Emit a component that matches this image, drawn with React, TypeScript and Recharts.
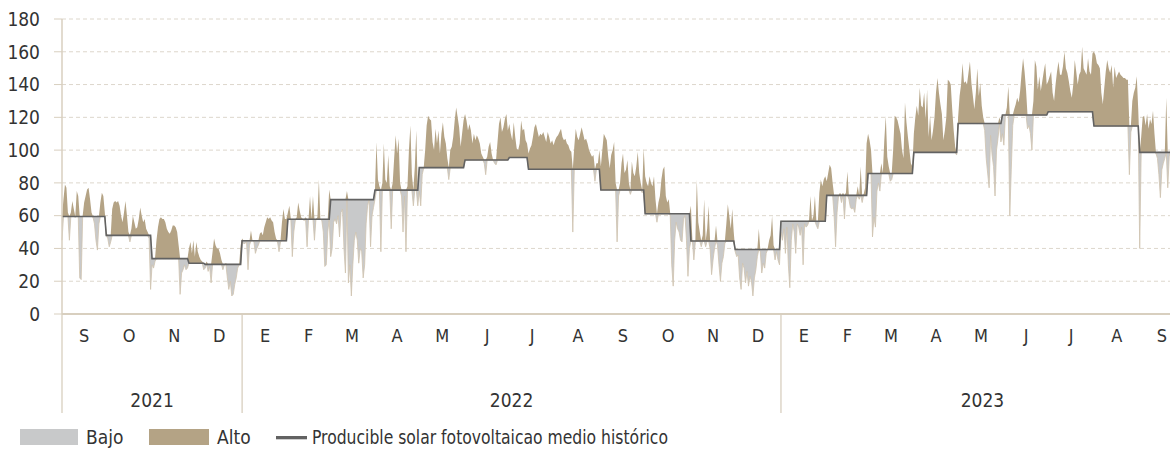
import React from 'react';
import { ComposedChart, Area, Line, XAxis, YAxis, CartesianGrid } from 'recharts';

// ---- axis labels ----
const monthLabels = ['S','O','N','D','E','F','M','A','M','J','J','A','S','O','N','D','E','F','M','A','M','J','J','A','S'];
const monthLengths = [30,31,30,31, 31,28,31,30,31,30,31,31,30,31,30,31, 31,28,31,30,31,30,31,31,30];
const yearLabels = ['2021','2022','2023'];
const yearMonthCounts = [4, 12, 9];
const yTicks = [0,20,40,60,80,100,120,140,160,180];

// ---- daily producible (one array per month) ----
const sep21 = [45,70,79,77,62,45,62,69,64,59,75,72,22,21,60,68,72,76,77,70,62,59,55,45,39,55,68,74,72,62];
const oct21 = [50,46,41,44,64,68,69,68,69,66,60,56,62,69,60,50,44,52,60,56,52,53,58,65,60,56,58,52,50,46,15];
const nov21 = [30,28,32,45,53,58,59,58,58,56,52,50,49,51,54,54,53,50,42,12,25,27,30,27,28,40,44,37,45,35];
const dec21 = [44,38,35,33,32,27,28,32,26,29,19,38,46,42,40,40,37,33,27,30,31,22,15,20,11,12,18,22,28,30,42];
const jan22 = [46,43,43,44,27,42,51,45,44,37,40,42,49,50,48,53,56,59,58,59,57,56,50,46,44,38,44,56,64,58,58];
const feb22 = [62,66,58,35,50,57,59,68,63,59,58,57,59,41,58,72,58,72,45,58,59,82,58,57,50,29,30,50];
const mar22 = [76,35,40,56,58,55,60,47,62,64,40,25,75,19,30,11,30,45,50,45,31,40,38,22,30,55,66,70,41,60,65];
const apr22 = [70,105,82,78,38,80,104,82,80,97,78,52,80,95,109,98,107,80,72,50,72,38,78,100,115,85,66,90,112,66];
const may22 = [75,66,85,89,100,115,121,119,118,105,100,113,104,112,98,110,117,108,104,95,82,100,102,108,118,126,120,114,102,110,118];
const jun22 = [122,118,112,116,112,104,110,106,109,107,104,98,96,92,85,96,102,105,98,94,92,91,105,116,120,111,114,119,122,112];
const jul22 = [116,110,106,117,108,101,100,104,118,112,113,106,104,98,101,103,108,114,116,112,108,110,109,111,108,105,111,108,104,106,103];
const aug22 = [106,108,109,111,113,108,106,107,104,103,100,99,50,102,113,108,106,110,114,110,106,107,104,100,98,96,97,81,92,92,100];
const sep22 = [90,100,110,108,106,96,89,97,100,105,80,44,72,80,92,98,86,88,94,80,73,93,86,84,90,99,86,80,74,101];
const oct22 = [84,80,78,84,80,78,84,70,56,68,72,82,88,90,72,68,70,60,30,17,45,56,52,50,45,44,58,60,45,23,40];
const nov22 = [66,45,33,44,82,56,50,41,48,70,41,52,66,40,24,33,40,54,42,30,20,31,35,43,55,67,60,52,64,50];
const dec22 = [38,35,36,22,15,31,28,19,26,17,23,20,11,22,27,35,52,38,25,31,28,37,40,45,48,60,42,33,38,33,30];
const jan23 = [50,45,52,37,53,30,16,45,55,50,37,55,53,48,53,30,55,53,54,57,72,57,60,72,54,52,74,82,78,82,84];
const feb23 = [81,86,91,89,80,60,41,62,72,74,68,74,58,74,87,70,65,64,65,62,70,78,70,90,68,73,77,104];
const mar23 = [110,106,100,47,59,53,75,80,75,92,86,106,121,96,90,81,82,100,121,120,118,114,110,100,95,129,117,108,100,92,90];
const apr23 = [110,120,127,121,138,127,126,135,119,137,108,121,106,112,120,135,144,135,128,122,106,112,120,143,142,140,125,112,102,97];
const may23 = [120,133,140,153,141,142,140,147,154,141,133,125,135,150,133,141,127,120,112,95,86,77,109,97,90,72,100,107,120,105,110];
const jun23 = [103,121,126,139,60,88,115,125,128,132,129,136,147,156,148,137,113,115,110,100,130,155,151,137,145,136,142,148,153,140];
const jul23 = [142,145,148,135,130,140,148,154,146,146,151,160,150,147,142,136,132,140,155,148,140,146,148,163,150,148,146,156,148,146,159];
const aug23 = [160,158,153,152,150,135,128,138,148,155,150,147,152,138,151,144,146,148,146,145,144,144,143,143,85,111,130,135,138,145,125];
const sep23 = [40,108,120,121,115,122,113,119,116,124,110,98,95,85,71,88,92,95,132,77,96,100];

const dailyByMonth = [sep21,oct21,nov21,dec21,jan22,feb22,mar22,apr22,may22,jun22,jul22,aug22,sep22,oct22,nov22,dec22,jan23,feb23,mar23,apr23,may23,jun23,jul23,aug23,sep23];

// ---- historical mean (step level, from day index) ----
const meanStartDay = [0,30,61,86,97,122,153,182,212,242,273,303,316,365,395,426,456,487,518,546,577,607,637,668,699,730];
const meanValue = [59.5,48,33.8,31,30.3,44.7,57.8,69.8,75.6,89.3,94,95.5,88.3,75.7,61.2,44.5,39.4,56.6,72.4,85.7,98.6,116.2,121.4,123.4,114.7,98.6];

// ---- derived structures ----
const monthStarts: number[] = [];
let acc = 0;
for (const len of monthLengths) { monthStarts.push(acc); acc += len; }
const totalDays = acc;
const monthCenters = monthStarts.map((s, i) => s + monthLengths[i] / 2);
const yearStarts: number[] = [];
const yearEnds: number[] = [];
{
  let mi = 0;
  for (const c of yearMonthCounts) {
    yearStarts.push(monthStarts[mi]);
    mi += c;
    yearEnds.push(mi < monthStarts.length ? monthStarts[mi] : totalDays);
  }
}
const yearCenters = yearStarts.map((s, i) => (s + yearEnds[i]) / 2);

const values = dailyByMonth.flat();
const meanAt = (d: number) => {
  let m = meanValue[0];
  for (let i = 0; i < meanStartDay.length; i++) if (d >= meanStartDay[i]) m = meanValue[i];
  return m;
};
const data = values.map((v, d) => {
  const m = meanAt(d);
  return { d, v, m, bajo: [Math.min(v, m), m], alto: [m, Math.max(v, m)] };
});

// ---- styling ----
const FONT = "'Liberation Sans Narrow', 'Arial Narrow', 'DejaVu Sans Condensed', 'Roboto Condensed', Roboto, sans-serif";
const TEXT = '#333333';
const AXIS = '#d8cfbf';
const GRID = '#ddd7cc';
const GRAY = '#c8c9ca';
const BROWN = '#b4a385';
const LINE = '#626262';

const near = (a: number, b: number) => Math.abs(a - b) < 0.01;

const MonthTick = (props: any) => {
  const { x, y, payload } = props;
  const i = monthCenters.findIndex((c) => near(c, payload.value));
  return (
    <text x={x} y={y + 28} textAnchor="middle" fill={TEXT} fontSize={18} fontFamily={FONT}>
      {i >= 0 ? monthLabels[i] : ''}
    </text>
  );
};

const YearTick = (props: any) => {
  const { x, y, payload } = props;
  const b = yearStarts.findIndex((s) => near(s, payload.value));
  if (b >= 0) {
    return <line x1={x} x2={x} y1={y - 40} y2={y + 59} stroke={AXIS} strokeWidth={1.3} />;
  }
  const i = yearCenters.findIndex((c) => near(c, payload.value));
  return (
    <text x={x} y={y + 52.5} textAnchor="middle" fill={TEXT} fontSize={19} fontFamily={FONT}>
      {i >= 0 ? yearLabels[i] : ''}
    </text>
  );
};

export default function App() {
  return (
    <div style={{ position: 'absolute', left: 0, top: 0, width: 1170, height: 450, overflow: 'hidden', background: '#fff', fontFamily: FONT }}>
      <ComposedChart width={1190} height={450} data={data} margin={{ top: 19, right: 6, left: 0, bottom: 36 }}>
        <CartesianGrid xAxisId="m" vertical={false} stroke={GRID} strokeDasharray="4 3" />
        <XAxis
          xAxisId="m"
          dataKey="d"
          type="number"
          domain={[0, totalDays]}
          ticks={monthCenters}
          interval={0}
          tick={MonthTick}
          tickLine={false}
          tickSize={0}
          tickMargin={0}
          axisLine={{ stroke: AXIS, strokeWidth: 1.8 }}
          height={40}
        />
        <XAxis
          xAxisId="y"
          dataKey="d"
          type="number"
          domain={[0, totalDays]}
          ticks={[...yearStarts, ...yearCenters].sort((a, b) => a - b)}
          interval={0}
          tick={YearTick}
          tickLine={false}
          tickSize={0}
          tickMargin={0}
          axisLine={false}
          height={60}
        />
        <YAxis
          domain={[0, 180]}
          ticks={yTicks}
          interval={0}
          width={62}
          tickSize={8}
          tickMargin={14}
          tickLine={{ stroke: AXIS }}
          axisLine={{ stroke: AXIS, strokeWidth: 1.5 }}
          tick={{ fill: TEXT, fontSize: 19, fontFamily: FONT }}
        />
        <Area xAxisId="m" dataKey="bajo" type="linear" fill={GRAY} fillOpacity={1} stroke="#cfc3ae" strokeWidth={0.8} isAnimationActive={false} dot={false} activeDot={false} />
        <Area xAxisId="m" dataKey="alto" type="linear" fill={BROWN} fillOpacity={1} stroke="none" isAnimationActive={false} dot={false} activeDot={false} />
        <Line xAxisId="m" dataKey="m" type="linear" stroke={LINE} strokeWidth={1.6} dot={false} activeDot={false} isAnimationActive={false} />
      </ComposedChart>
      <svg width={1170} height={450} style={{ position: 'absolute', left: 0, top: 0, pointerEvents: 'none' }}>
        <rect x={20} y={429} width={58} height={16} fill={GRAY} />
        <text x={86} y={443.5} fill={TEXT} fontSize={19} fontFamily={FONT}>Bajo</text>
        <rect x={149} y={429} width={60} height={16} fill={BROWN} />
        <text x={217} y={443.5} fill={TEXT} fontSize={19} fontFamily={FONT}>Alto</text>
        <rect x={276} y={436} width={31} height={3.3} fill={LINE} />
        <text x={312} y={443.5} fill={TEXT} fontSize={19} fontFamily={FONT} textLength={356} lengthAdjust="spacingAndGlyphs">Producible solar fotovoltaicao medio histórico</text>
      </svg>
    </div>
  );
}
